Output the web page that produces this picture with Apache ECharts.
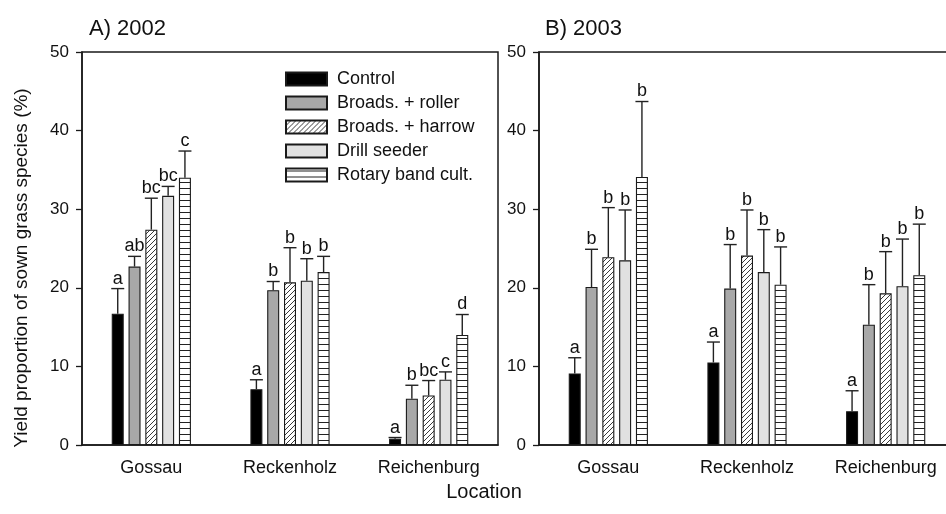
<!DOCTYPE html>
<html>
<head>
<meta charset="utf-8">
<script src="https://cdn.jsdelivr.net/npm/echarts@6/dist/echarts.min.js"></script>
<style>
html,body{margin:0;padding:0;background:#fff;}
#chart{width:946px;height:514px;}
</style>
</head>
<body>
<div id="chart"></div>
<script>
// ---------- data ----------
const categories = ['Gossau', 'Reckenholz', 'Reichenburg'];
const treatments = ['Control', 'Broads. + roller', 'Broads. + harrow', 'Drill seeder', 'Rotary band cult.'];
const yTicks = [0, 10, 20, 30, 40, 50];

// 2002 means (per location)
const mean2002Control = [16.7, 7.1, 0.8];
const mean2002Roller  = [22.7, 19.7, 5.9];
const mean2002Harrow  = [27.4, 20.7, 6.3];
const mean2002Drill   = [31.7, 20.9, 8.3];
const mean2002Rotary  = [34.0, 22.0, 14.0];
// 2002 standard errors
const se2002Control = [3.2, 1.2, 0.15];
const se2002Roller  = [1.3, 1.1, 1.7];
const se2002Harrow  = [4.0, 4.4, 1.9];
const se2002Drill   = [1.2, 2.8, 1.0];
const se2002Rotary  = [3.4, 2.0, 2.6];
// 2002 letters
const let2002Control = ['a', 'a', 'a'];
const let2002Roller  = ['ab', 'b', 'b'];
const let2002Harrow  = ['bc', 'b', 'bc'];
const let2002Drill   = ['bc', 'b', 'c'];
const let2002Rotary  = ['c', 'b', 'd'];

// 2003 means
const mean2003Control = [9.1, 10.5, 4.3];
const mean2003Roller  = [20.1, 19.9, 15.3];
const mean2003Harrow  = [23.9, 24.1, 19.3];
const mean2003Drill   = [23.5, 22.0, 20.2];
const mean2003Rotary  = [34.1, 20.4, 21.6];
// 2003 standard errors
const se2003Control = [2.0, 2.6, 2.6];
const se2003Roller  = [4.8, 5.6, 5.1];
const se2003Harrow  = [6.3, 5.8, 5.3];
const se2003Drill   = [6.4, 5.4, 6.0];
const se2003Rotary  = [9.6, 4.8, 6.5];
// 2003 letters
const let2003Control = ['a', 'a', 'a'];
const let2003Roller  = ['b', 'b', 'b'];
const let2003Harrow  = ['b', 'b', 'b'];
const let2003Drill   = ['b', 'b', 'b'];
const let2003Rotary  = ['b', 'b', 'b'];

// ---------- styling ----------
const FONT = 'Liberation Sans, Arial, sans-serif';
const INK = '#1a1a1a';

function makeHatch() {
  const c = document.createElement('canvas');
  c.width = 5; c.height = 5;
  const g = c.getContext('2d');
  g.fillStyle = '#fff'; g.fillRect(0, 0, 5, 5);
  g.strokeStyle = '#222'; g.lineWidth = 0.9;
  g.beginPath();
  g.moveTo(-1, 6); g.lineTo(6, -1);
  g.moveTo(-1, 1); g.lineTo(1, -1);
  g.moveTo(4, 6); g.lineTo(6, 4);
  g.stroke();
  return c;
}
function makeHoriz() {
  const c = document.createElement('canvas');
  c.width = 6; c.height = 6;
  const g = c.getContext('2d');
  g.fillStyle = '#fff'; g.fillRect(0, 0, 6, 6);
  g.fillStyle = '#222'; g.fillRect(0, 2, 6, 1);
  return c;
}
const fills = [
  '#000000',
  '#a8a8a8',
  { image: makeHatch(), repeat: 'repeat' },
  '#e1e1e1',
  { image: makeHoriz(), repeat: 'repeat' }
];

const years = [
  {
    means: [mean2002Control, mean2002Roller, mean2002Harrow, mean2002Drill, mean2002Rotary],
    ses: [se2002Control, se2002Roller, se2002Harrow, se2002Drill, se2002Rotary],
    lets: [let2002Control, let2002Roller, let2002Harrow, let2002Drill, let2002Rotary]
  },
  {
    means: [mean2003Control, mean2003Roller, mean2003Harrow, mean2003Drill, mean2003Rotary],
    ses: [se2003Control, se2003Roller, se2003Harrow, se2003Drill, se2003Rotary],
    lets: [let2003Control, let2003Roller, let2003Harrow, let2003Drill, let2003Rotary]
  }
];

const BAR_W = 12;
const STEP = BAR_W * 1.4;

const series = [];
years.forEach((yr, p) => {
  treatments.forEach((name, t) => {
    series.push({
      type: 'bar',
      name: name,
      xAxisIndex: p, yAxisIndex: p,
      barWidth: BAR_W,
      barGap: '40%',
      data: yr.means[t],
      itemStyle: { color: fills[t], borderColor: INK, borderWidth: 1.1 },
      emphasis: { disabled: true },
      animation: false
    });
  });
  // error bars + letters
  const errData = [];
  treatments.forEach((name, t) => {
    categories.forEach((c, ci) => {
      errData.push([ci, yr.means[t][ci], yr.means[t][ci] + yr.ses[t][ci], t]);
    });
  });
  const letters = [];
  treatments.forEach((name, t) => { categories.forEach((c, ci) => letters.push(yr.lets[t][ci])); });
  series.push({
    type: 'custom',
    xAxisIndex: p, yAxisIndex: p,
    z: 5,
    animation: false,
    silent: true,
    data: errData,
    encode: { x: 0, y: 2 },
    renderItem: function (params, api) {
      const ci = api.value(0), m = api.value(1), up = api.value(2), t = api.value(3);
      const base = api.coord([ci, m]);
      const top = api.coord([ci, up]);
      const x = base[0] + (t - 2) * STEP;
      return {
        type: 'group',
        children: [
          { type: 'line', shape: { x1: x, y1: base[1], x2: x, y2: top[1] }, style: { stroke: '#222', lineWidth: 1.4 } },
          { type: 'line', shape: { x1: x - 6.5, y1: top[1], x2: x + 6.5, y2: top[1] }, style: { stroke: '#222', lineWidth: 1.4 } },
          { type: 'text', x: x, y: top[1] - 1, style: { text: letters[params.dataIndex], fill: '#111', font: '18px ' + FONT, textAlign: 'center', textVerticalAlign: 'bottom' } }
        ]
      };
    }
  });
});

function yAxis(gi) {
  return {
    type: 'value', gridIndex: gi, min: 0, max: 50, interval: 10,
    axisLine: { show: true, lineStyle: { color: INK, width: 1.5 } },
    axisTick: { show: true, inside: false, length: 6, lineStyle: { color: INK, width: 1.3 } },
    splitLine: { show: false },
    axisLabel: { fontSize: 17, color: '#111', fontFamily: FONT, margin: 13, customValues: yTicks }
  };
}
function xAxis(gi) {
  return {
    type: 'category', gridIndex: gi, data: categories,
    axisLine: { show: true, lineStyle: { color: INK, width: 1.5 } },
    axisTick: { show: false },
    axisLabel: { fontSize: 18, color: '#111', fontFamily: FONT, margin: 14 }
  };
}

const option = {
  backgroundColor: '#fff',
  animation: false,
  textStyle: { fontFamily: FONT },
  title: [
    { text: 'A) 2002', left: 84, top: 13, textStyle: { fontSize: 22, fontWeight: 'normal', color: '#111', fontFamily: FONT } },
    { text: 'B) 2003', left: 540, top: 13, textStyle: { fontSize: 22, fontWeight: 'normal', color: '#111', fontFamily: FONT } }
  ],
  legend: {
    data: treatments.map(n => ({ name: n, icon: 'rect' })),
    orient: 'vertical',
    left: 285, top: 70,
    itemWidth: 41, itemHeight: 13, itemGap: 6,
    padding: 0,
    selectedMode: false,
    textStyle: { fontSize: 18, color: '#111', fontFamily: FONT, lineHeight: 17, padding: [0, 0, 0, 5] }
  },
  grid: [
    { left: 82, top: 52, width: 416, height: 393, show: true, borderColor: INK, borderWidth: 1.5, backgroundColor: 'transparent', outerBoundsMode: 'none' },
    { left: 539, top: 52, width: 416, height: 393, show: true, borderColor: INK, borderWidth: 1.5, backgroundColor: 'transparent', outerBoundsMode: 'none' }
  ],
  xAxis: [xAxis(0), xAxis(1)],
  yAxis: [yAxis(0), yAxis(1)],
  series: series,
  graphic: [
    { type: 'text', x: 22, y: 268, rotation: Math.PI / 2, style: { text: 'Yield proportion of sown grass species (%)', font: '19px ' + FONT, fill: '#111', textAlign: 'center', textVerticalAlign: 'middle' } },
    { type: 'text', x: 484, y: 492, style: { text: 'Location', font: '20px ' + FONT, fill: '#111', textAlign: 'center', textVerticalAlign: 'middle' } }
  ]
};

const chart = echarts.init(document.getElementById('chart'), null, { renderer: 'canvas' });
chart.setOption(option);
</script>
</body>
</html>
